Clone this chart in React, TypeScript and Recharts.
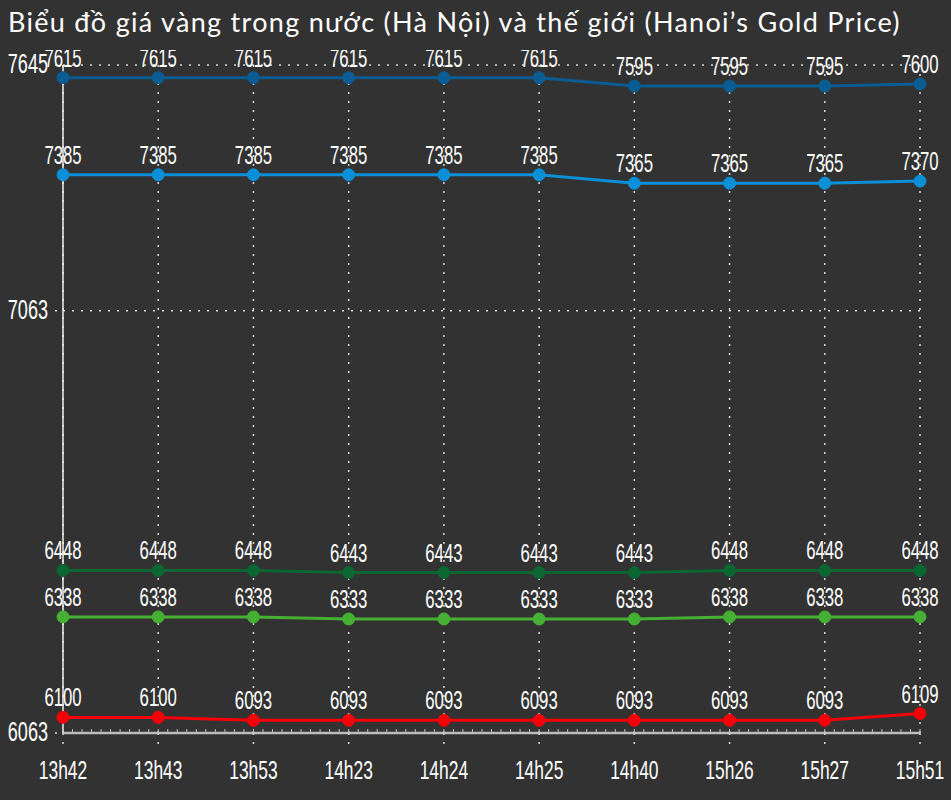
import { LineChart, Line, XAxis, YAxis, CartesianGrid, LabelList } from 'recharts';

const times = ['13h42', '13h43', '13h53', '14h23', '14h24', '14h25', '14h40', '15h26', '15h27', '15h51'];
const sjcSell = [7615, 7615, 7615, 7615, 7615, 7615, 7595, 7595, 7595, 7600];
const sjcBuy = [7385, 7385, 7385, 7385, 7385, 7385, 7365, 7365, 7365, 7370];
const ringSell = [6448, 6448, 6448, 6443, 6443, 6443, 6443, 6448, 6448, 6448];
const ringBuy = [6338, 6338, 6338, 6333, 6333, 6333, 6333, 6338, 6338, 6338];
const world = [6100, 6100, 6093, 6093, 6093, 6093, 6093, 6093, 6093, 6109];
const yTicks = [6063, 7063, 7645];

const series = [
    { key: 'sjcSell', color: '#0a5c92' },
    { key: 'sjcBuy', color: '#0b8fd6' },
    { key: 'ringSell', color: '#0b6632' },
    { key: 'ringBuy', color: '#46b034' },
    { key: 'world', color: '#f50008' },
];

const rows = times.map((t, i) => ({
    idx: i,
    sjcSell: sjcSell[i],
    sjcBuy: sjcBuy[i],
    ringSell: ringSell[i],
    ringBuy: ringBuy[i],
    world: world[i],
}));

// axis ticks every tenth of an interval; only whole ones carry a time label
const xTicks = Array.from({ length: (times.length - 1) * 10 + 1 }, (_, i) => i / 10);
const majorTicks = times.map((_, i) => i);

const FONT = '"Liberation Sans", Arial, sans-serif';
const SQUEEZE = 0.67;

const ValueLabel = (props: any) => {
    const { x, y, value } = props;
    return (
        <text
            transform={`translate(${x},${y - 11}) scale(${SQUEEZE},1)`}
            textAnchor="middle"
            fill="#ffffff"
            fontSize={25}
            fontFamily={FONT}
        >
            {value}
        </text>
    );
};

const YTick = (props: any) => {
    const { x, y, payload } = props;
    return (
        <g>
            <line x1={x} x2={63} y1={y} y2={y} stroke="#d8d8d8" strokeDasharray="2 7" strokeWidth={1.5} />
            <text
                transform={`translate(${x - 7},${y + 8}) scale(${SQUEEZE},1)`}
                textAnchor="end"
                fill="#ffffff"
                fontSize={27}
                fontFamily={FONT}
            >
                {payload.value}
            </text>
        </g>
    );
};

const XTick = (props: any) => {
    const { x, y, payload } = props;
    const v = Math.round(payload.value * 10);
    if (v % 10 !== 0) {
        return <line x1={x} x2={x} y1={y} y2={y - 4} stroke="#bdbdbd" strokeWidth={1} />;
    }
    return (
        <g>
            <line x1={x} x2={x} y1={y} y2={y - 4} stroke="#bdbdbd" strokeWidth={1} />
            <line x1={x} x2={x} y1={y} y2={y + 17} stroke="#d8d8d8" strokeDasharray="2 7" strokeWidth={1.5} />
            <text
                transform={`translate(${x},${y + 46}) scale(${SQUEEZE},1)`}
                textAnchor="middle"
                fill="#ffffff"
                fontSize={26}
                fontFamily={FONT}
            >
                {times[v / 10]}
            </text>
        </g>
    );
};

export default function App() {
    return (
        <div style={{ position: 'absolute', left: 0, top: 0, width: 951, height: 800, background: '#323232' }}>
            <div
                style={{
                    position: 'absolute',
                    left: 8,
                    top: 5,
                    color: '#ffffff',
                    fontFamily: 'Lato, sans-serif',
                    fontSize: 27,
                    letterSpacing: 1.3,
                    whiteSpace: 'nowrap',
                }}
            >
                Biểu đồ giá vàng trong nước (Hà Nội) và thế giới (Hanoi’s Gold Price)
            </div>
            <div style={{ position: 'absolute', left: 0, top: 50 }}>
                <LineChart width={951} height={750} data={rows} margin={{ top: 15, right: 31, bottom: 0, left: 0 }}>
                    <CartesianGrid
                        stroke="#d8d8d8"
                        strokeDasharray="2 7"
                        strokeWidth={1.5}
                        verticalValues={majorTicks}
                    />
                    <XAxis
                        dataKey="idx"
                        type="number"
                        domain={[0, times.length - 1]}
                        ticks={xTicks}
                        interval={0}
                        height={67}
                        axisLine={{ stroke: '#bdbdbd', strokeWidth: 2.5 }}
                        tickLine={false}
                        tickSize={0}
                        tickMargin={0}
                        tick={<XTick />}
                    />
                    <YAxis
                        width={63}
                        domain={[6063, 7645]}
                        ticks={yTicks}
                        allowDataOverflow
                        axisLine={{ stroke: '#f0f0f0', strokeWidth: 1.5 }}
                        tickLine={false}
                        tickSize={8}
                        tickMargin={0}
                        tick={<YTick />}
                    />
                    {series.map((s) => (
                        <Line
                            key={s.key}
                            dataKey={s.key}
                            stroke={s.color}
                            strokeWidth={3}
                            dot={{ r: 6, fill: s.color, stroke: s.color, strokeWidth: 1 }}
                            activeDot={false}
                            isAnimationActive={false}
                        >
                            <LabelList dataKey={s.key} content={<ValueLabel />} />
                        </Line>
                    ))}
                </LineChart>
            </div>
        </div>
    );
}
